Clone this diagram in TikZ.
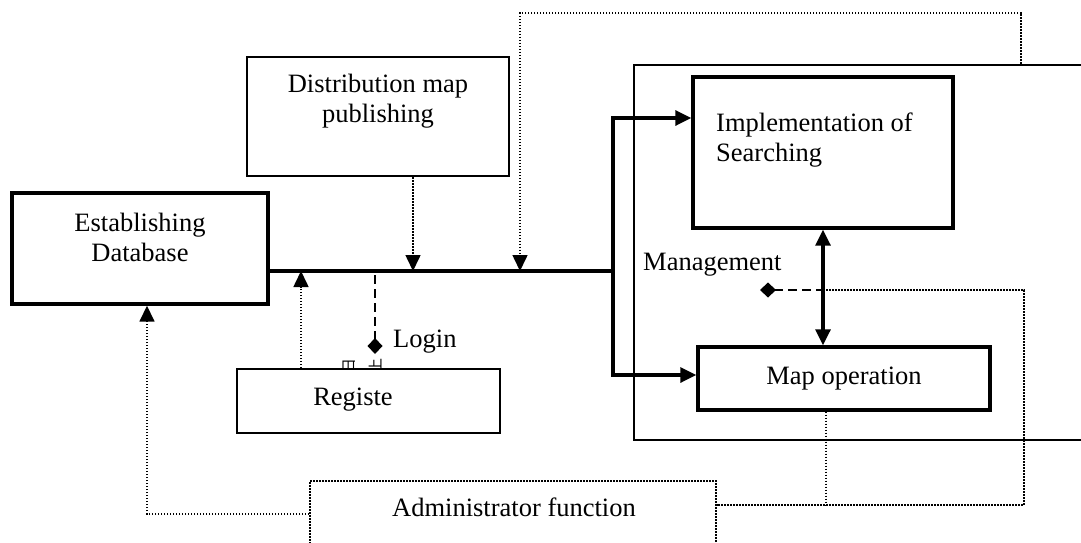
\documentclass[tikz,border=0pt]{standalone}
\usepackage{fontspec}
\setmainfont{Liberation Serif}
\newfontfamily\cjk{Noto Sans CJK SC}
\usetikzlibrary{arrows.meta,positioning}

\begin{document}
\begin{tikzpicture}[x=1pt,y=-1pt,font=\fontsize{26.5}{30}\selectfont,
      box/.style={draw,line width=1.8pt,inner sep=0pt},
      heavybox/.style={box,line width=3.4pt},
      txt/.style={inner sep=0pt,align=center},
      busline/.style={line width=3.2pt},
      dotline/.style={line width=1.6pt,dash pattern=on 1.6pt off 1.4pt},
      dashline/.style={line width=2.2pt,dash pattern=on 9pt off 5pt},
      tip/.style={-{Triangle[length=16pt,width=15pt]}},
      twotips/.style={{Triangle[length=16pt,width=15pt]}-{Triangle[length=16pt,width=15pt]}},
      dia/.style={{Diamond[length=16pt,width=15pt]}-},
      garble/.style={inner sep=0pt,rotate=90,font=\cjk\fontsize{15}{15}\selectfont}]
      \useasboundingbox (0,0) rectangle (1081,543);
      % boxes
			\node[box,minimum width=466pt,minimum height=375pt] (frame) at (867,252.5) {};
      \node[heavybox,minimum width=256pt,minimum height=111pt] (db) at (140,248.5) {};
      \node[box,minimum width=262pt,minimum height=119pt] (dist) at (378,116.5) {};
      \node[garble] (gla) at (349,366) {日};
      \node[garble] (glb) at (376,366) {上};
      \node[box,fill=white,minimum width=263pt,minimum height=64pt] (reg) at (368.5,401) {};
      \node[heavybox,minimum width=260pt,minimum height=151pt] (search) at (823,152.5) {};
      \node[heavybox,minimum width=292pt,minimum height=63pt] (mapop) at (844,378.5) {Map operation};
      \node[box,dotline,minimum width=406pt,minimum height=90pt] (admin) at (513,526) {};
      % texts
      \node[txt] (dbtext) at (140,237) {Establishing\\Database};
      \node[txt] (disttext) at (378,101) {Distribution map\\publishing};
      \node[txt,align=left,anchor=west] (searchtext) at (716,140) {Implementation of\\Searching};
      \node[txt,anchor=base] (regtext) at (353,405) {Registe};
      \node[txt,anchor=base] (admintext) at (514,516) {Administrator function};
      \node[txt,anchor=base west] (mgmt) at (643,270) {Management};
      \node[txt,anchor=base west] (login) at (393,347) {Login};
      % joints
      \coordinate (bus) at (613,271);
      \coordinate (topturn) at (520,13);
      \coordinate (loginpt) at (375,354);
      \coordinate (mgpt) at (760,290);
      \coordinate (adminjoin) at (1024,505);
      % connectors
      \draw[busline] (db.east |- bus) -- (bus);
      \draw[busline,twotips] ([yshift=34.5pt]search.west) -| (bus) |- ([yshift=3.5pt]mapop.west);
      \draw[busline,twotips] (search.south) -- (search.south |- mapop.north);
      \draw[dotline,tip] ([xshift=35pt]dist.south) -- ([xshift=35pt]dist.south |- bus);
      \draw[dotline,tip] ([xshift=154pt]frame.north) |- (topturn) -- (topturn |- bus);
      \draw[dotline,tip] ([xshift=-67.5pt]reg.north) -- ([xshift=-67.5pt]reg.north |- bus);
      \draw[dotline,tip] ([yshift=12pt]admin.west) -| ([xshift=7pt]db.south);
      \draw[dashline,dia] (loginpt) -- (loginpt |- bus);
      \draw[dashline,dia] (mgpt) -- (search.south |- mgpt);
      \draw[dotline] (search.south |- mgpt) -| (adminjoin) -- ([yshift=21pt]admin.east);
      \draw[dotline] ([xshift=-18pt]mapop.south) -- ([xshift=-18pt]mapop.south |- adminjoin);
		\end{tikzpicture}
\end{document}
